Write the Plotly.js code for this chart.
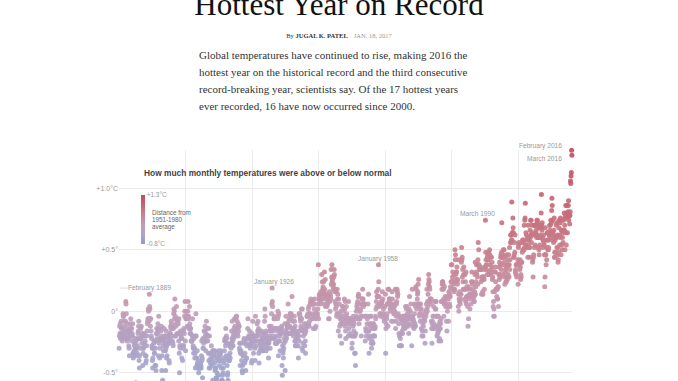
<!DOCTYPE html>
<html>
<head>
<meta charset="utf-8">
<script src="https://cdn.plot.ly/plotly-3.0.1.min.js"></script>
<style>
html,body{margin:0;padding:0;width:678px;height:381px;overflow:hidden;background:#fff;}
#chart{position:absolute;left:0;top:0;width:678px;height:500px;z-index:1;}
.hed{position:absolute;left:0;width:678px;top:-11px;text-align:center;font-family:'Liberation Serif',serif;font-size:31px;line-height:31px;color:#111;z-index:2;white-space:nowrap;}
.byline{position:absolute;left:0;width:678px;top:32px;text-align:center;font-family:'Liberation Serif',serif;font-size:6.5px;line-height:8px;color:#333;z-index:2;white-space:nowrap;}
.byline b{font-weight:bold;color:#333;}
.byline .date{color:#999;margin-left:6px;}
.summary{position:absolute;left:199px;top:47.4px;font-family:'Liberation Serif',serif;font-size:11px;line-height:16.8px;color:#333;white-space:nowrap;z-index:2;}
</style>
</head>
<body>
<div class="hed">Hottest Year on Record</div>
<div class="byline">By <b>JUGAL K. PATEL</b><span class="date">JAN. 18, 2017</span></div>
<div class="summary">Global temperatures have continued to rise, making 2016 the<br>hottest year on the historical record and the third consecutive<br>record-breaking year, scientists say. Of the 17 hottest years<br>ever recorded, 16 have now occurred since 2000.</div>
<div id="chart"></div>
<script>
// ---- data ----
const startYear = 1880;
const monthNames = ["January","February","March","April","May","June","July","August","September","October","November","December"];
// monthly anomaly vs 1951-1980 average, in hundredths of a degree C; one row per year, Jan..Dec
const anomalyHundredths = [
[-30,-20,-12,-18,-10,-22,-18,-8,-14,-22,-20,-24],
[-18,-14,-2,-4,-4,-20,-8,-12,-16,-22,-20,-8],
[8,6,-2,-18,-16,-24,-22,-10,-14,-22,-16,-28],
[-30,-36,-16,-20,-18,-10,-6,-14,-20,-14,-24,-18],
[-20,-10,-34,-38,-34,-36,-32,-28,-26,-22,-32,-30],
[-58,-30,-24,-36,-30,-34,-28,-22,-18,-16,-12,-8],
[-40,-46,-36,-22,-22,-30,-14,-22,-12,-20,-26,-18],
[-62,-44,-30,-34,-30,-20,-18,-26,-20,-28,-24,-36],
[-42,-36,-40,-28,-20,-16,-10,-8,-6,2,0,-6],
[-8,14,4,2,-6,-12,-6,-16,-20,-22,-28,-30],
[-40,-46,-38,-30,-30,-26,-24,-34,-34,-24,-44,-30],
[-44,-48,-18,-24,-14,-22,-18,-14,-10,-16,-36,-4],
[-26,-14,-38,-30,-22,-24,-22,-16,-20,-12,-48,-36],
[-76,-56,-22,-28,-32,-24,-14,-22,-26,-20,-20,-32],
[-48,-30,-16,-38,-28,-36,-22,-20,-26,-20,-26,-26],
[-40,-42,-24,-18,-22,-18,-12,-14,-8,-10,-14,-20],
[-24,-12,-26,-28,-14,-2,2,0,-6,10,-20,-4],
[-20,-12,-10,4,-6,-18,-8,-10,-8,-10,-18,-24],
[-6,-34,-50,-28,-30,-16,-18,-20,-22,-28,-38,-22],
[-16,-40,-28,-30,-16,-28,-14,-18,-4,0,8,-24],
[-32,-6,0,-4,-6,-4,-12,-4,0,8,-6,-4],
[-14,-12,4,-10,-18,-14,-14,-18,-24,-24,-24,-24],
[-20,-6,-20,-28,-30,-34,-22,-30,-30,-38,-34,-46],
[-20,-2,-20,-38,-38,-44,-32,-42,-44,-46,-40,-50],
[-60,-46,-46,-46,-46,-44,-42,-44,-46,-36,-24,-40],
[-38,-54,-22,-30,-30,-26,-24,-16,-16,-24,-12,-20],
[-24,-32,-18,-8,-24,-20,-20,-14,-24,-20,-34,-14],
[-40,-46,-20,-34,-46,-42,-40,-38,-34,-28,-44,-42],
[-42,-32,-56,-40,-36,-36,-32,-36,-32,-42,-48,-46],
[-66,-46,-54,-56,-54,-50,-38,-34,-38,-40,-32,-52],
[-38,-40,-44,-34,-36,-40,-34,-32,-40,-46,-56,-62],
[-56,-52,-60,-50,-46,-42,-40,-38,-32,-24,-22,-24],
[-28,-14,-36,-20,-22,-26,-44,-52,-50,-56,-40,-38],
[-36,-40,-40,-28,-34,-38,-28,-26,-30,-26,-16,-22],
[-8,-28,-24,-28,-20,-22,-18,-14,-16,-6,-12,-6],
[-20,-6,-16,-4,-4,-14,-8,-18,-14,-20,-10,-16],
[-12,-12,-30,-26,-32,-44,-34,-26,-32,-34,-40,-64],
[-48,-50,-44,-36,-42,-36,-24,-22,-26,-42,-34,-66],
[-40,-48,-26,-38,-38,-28,-22,-22,-14,-6,-22,-22],
[-20,-22,-20,-16,-28,-30,-26,-26,-20,-22,-42,-40],
[-18,-22,-8,-24,-24,-34,-28,-24,-20,-24,-30,-40],
[-4,-20,-20,-28,-24,-20,-10,-20,-16,-8,-18,-14],
[-34,-42,-16,-24,-32,-26,-24,-28,-30,-24,-16,-20],
[-24,-32,-22,-32,-30,-18,-22,-26,-26,-8,2,-4],
[-18,-28,-16,-32,-20,-22,-22,-30,-26,-26,-22,-38],
[-26,-24,-12,-16,-20,-30,-22,-14,-16,-12,-2,6],
[19,8,4,-16,-20,-22,-14,-6,-4,-6,-6,-22],
[-26,-14,-26,-26,-20,-26,-14,-16,-6,0,-4,-36],
[-2,-14,-24,-24,-20,-32,-18,-16,-18,-16,-12,-14],
[-44,-52,-28,-34,-32,-38,-30,-26,-22,-18,-10,-48],
[-24,-16,-4,-20,-22,-18,-14,-10,-12,-12,6,-12],
[-8,-18,-6,-18,-12,-2,-2,-6,-4,-2,-14,-4],
[12,-18,-16,-8,-14,-20,-16,-14,-4,-8,-24,-12],
[-28,-24,-28,-16,-22,-28,-18,-18,-22,-20,-28,-38],
[-20,-2,-24,-16,-2,-4,-6,-8,-12,-14,2,-6],
[-30,2,-16,-32,-26,-20,-14,-16,-16,-10,-28,-18],
[-24,-34,-16,-14,-10,-12,-4,-4,-4,-2,-4,2],
[-10,4,-12,-8,-2,-2,6,8,10,6,8,-6],
[8,6,6,6,-6,-14,-4,-2,2,10,6,-14],
[-4,-2,-12,-6,-2,-2,-4,-4,-2,2,6,38],
[-6,10,12,14,10,8,14,6,16,10,14,30],
[10,24,10,18,20,14,24,16,6,32,18,14],
[26,4,12,14,12,10,4,6,6,8,10,12],
[-6,10,-6,16,8,0,14,12,10,34,22,28],
[38,24,26,22,20,18,22,28,34,30,16,8],
[18,2,6,16,4,-4,-2,18,10,14,-2,-16],
[10,-2,-4,6,-12,-20,-6,-10,0,-4,-6,-26],
[-10,-8,4,4,-4,0,-8,-6,-10,10,2,-12],
[8,-16,-22,-4,4,-2,-10,-6,-6,-8,-6,-20],
[8,-14,-6,-8,-8,-18,-10,-6,-10,-6,-8,-20],
[-30,-26,-6,-20,-12,-4,-8,-16,-10,-20,-34,-20],
[-34,-44,-18,-6,0,-4,4,6,2,8,-6,12],
[14,12,-10,0,-6,-6,0,2,6,-4,-20,-4],
[6,10,10,18,10,6,4,6,6,6,-4,6],
[-24,-4,-14,-16,-20,-16,-16,-10,-6,-4,6,-16],
[14,-16,-34,-22,-20,-10,-12,-4,-10,-4,-26,-30],
[-14,-24,-20,-26,-26,-10,-10,-20,-14,-20,-20,-14],
[-12,-4,-6,2,8,16,4,12,12,4,12,18],
[38,24,12,4,6,-2,6,-4,-2,6,8,-4],
[6,8,16,10,-2,4,2,-2,-6,-8,-4,4],
[-4,14,-34,-14,-10,-4,-6,-2,6,6,-12,18],
[6,18,8,10,10,10,2,2,6,0,4,-8],
[6,16,10,4,-8,4,2,-2,4,4,6,0],
[-2,18,-14,-8,-4,6,8,18,16,12,14,-2],
[-4,-10,-18,-28,-20,-4,-6,-22,-28,-28,-18,-28],
[-6,-16,-8,-18,-10,-4,-14,-4,-12,-4,-4,-8],
[-14,-4,4,-12,-8,2,4,-6,-2,-10,-4,-12],
[-6,-18,2,0,12,-10,-4,0,-6,6,-4,-4],
[-28,-6,18,-4,-12,-6,-8,-8,-14,6,-2,-12],
[-10,-12,4,20,18,6,2,4,10,14,16,22],
[6,26,4,6,-4,-2,-2,-8,6,2,2,-14],
[-2,-20,-16,-8,-10,-20,-12,-4,-4,-6,-6,-8],
[-26,-16,0,-4,-2,6,2,18,0,8,4,14],
[22,30,26,24,20,18,10,8,6,10,10,-8],
[-14,-26,-10,-8,-14,-4,-4,4,-10,-12,-12,-14],
[8,2,8,2,8,-4,-4,-20,-4,-12,-18,-16],
[-4,-16,-24,-10,-22,-14,-8,-14,-10,-24,-6,8],
[8,18,22,24,24,22,18,10,-4,6,20,6],
[8,12,10,4,6,-8,4,-16,4,0,12,4],
[10,-8,16,4,6,14,4,12,20,18,24,38],
[24,38,24,28,32,24,24,22,18,16,30,18],
[50,42,46,30,26,32,32,36,24,22,26,42],
[4,14,0,10,16,8,8,6,14,10,14,40],
[52,42,44,28,34,24,18,30,36,18,30,18],
[30,10,24,8,32,6,12,20,18,12,4,-12],
[20,-6,12,10,14,12,2,18,12,14,6,14],
[24,32,24,22,18,12,10,14,8,12,8,16],
[30,40,14,20,24,32,38,30,38,28,22,42],
[56,38,50,38,36,36,34,34,36,34,24,34],
[14,28,26,28,16,14,26,28,28,26,18,34],
[36,36,74,48,42,38,34,38,30,44,46,42],
[42,48,30,46,32,50,46,38,44,30,32,34],
[44,36,40,26,28,16,4,8,-4,2,-4,16],
[32,36,32,24,18,18,18,12,10,18,10,20],
[20,4,30,36,26,40,30,28,38,44,46,34],
[48,72,44,44,30,44,46,50,38,50,40,28],
[22,44,32,34,24,24,36,46,28,26,42,38],
[30,38,46,28,38,52,34,42,56,62,62,56],
[58,89,58,64,64,76,68,64,44,44,46,56],
[48,62,32,34,30,38,38,28,38,38,38,42],
[22,52,54,56,40,38,34,42,36,26,30,28],
[40,40,56,48,58,50,56,58,50,50,70,52],
[74,76,88,54,64,54,62,52,58,52,60,44],
[70,54,58,52,58,44,52,66,60,74,62,74],
[56,70,62,64,40,42,28,44,46,62,70,52],
[70,54,70,70,64,66,62,60,74,74,72,60],
[52,68,60,50,46,60,54,70,62,68,68,80],
[95,70,66,72,60,52,58,58,62,56,54,46],
[20,28,68,46,46,38,52,42,58,64,64,50],
[58,50,52,58,62,62,70,66,70,64,74,60],
[72,82,92,86,74,64,58,62,56,66,76,44],
[48,44,58,60,48,60,70,72,52,62,46,52],
[40,42,48,68,74,62,54,60,72,76,74,46],
[66,54,66,50,60,64,56,66,74,66,80,66],
[70,50,76,78,86,64,54,80,86,78,64,76],
[81,86,90,74,78,78,71,78,81,106,104,110],
[113,131,127,107,93,79,84,98,87,89,91,81]
];
// labelled months: [year, month index], label text
const labelYears  = [2016, 2016, 1990, 1958, 1926, 1889];
const labelMonths = [1, 2, 2, 0, 0, 1];
const yTickVals = [-0.5, 0, 0.5, 1.0];
const yTickText = ["-0.5°", "0°", "+0.5°", "+1.0°C"];
const gridYears = ["1900", "1920", "1940", "1960", "1980", "2000"];
const colorMin = -0.8, colorMax = 1.3;
const colorTickText = ["-0.8°C", "+1.3°C"];
const legendLines = ["Distance from", "1951-1980", "average"];

// ---- build the trace ----
const xs = [], ys = [], hover = [];
anomalyHundredths.forEach((row, i) => {
  const yr = startYear + i;
  row.forEach((v, m) => {
    xs.push(yr + "-" + String(m + 1).padStart(2, "0") + "-15");
    ys.push(v / 100);
    hover.push(monthNames[m] + " " + yr);
  });
});
function pt(year, month) {
  return { x: year + "-" + String(month + 1).padStart(2, "0") + "-15", y: anomalyHundredths[year - startYear][month] / 100 };
}

const labelFont = { family: "Liberation Sans, Arial, sans-serif", size: 6.6, color: "#999" };
const shifts = [[-8, 4, "right"], [-8, -3, "right"], [-8, 7, "center"], [0, 6, "center"], [2, 6, "center"], [0, 6, "center"]];
const annotations = labelYears.map((yr, k) => {
  const p = pt(yr, labelMonths[k]);
  return { x: p.x, y: p.y, xref: "x", yref: "y", text: monthNames[labelMonths[k]] + " " + yr, showarrow: false,
    xanchor: shifts[k][2], yanchor: "middle", xshift: shifts[k][0], yshift: shifts[k][1], font: labelFont };
});
annotations.push({ xref: "paper", yref: "paper", x: 0.0508, y: 0.919, xanchor: "left", yanchor: "middle", showarrow: false,
  text: "<b>How much monthly temperatures were above or below normal</b>",
  font: { family: "Liberation Sans, Arial, sans-serif", size: 8.4, color: "#444" } });
legendLines.forEach((t, k) => annotations.push({ xref: "paper", yref: "paper", x: 0.0684, y: 0.780 - k * 0.0254,
  xanchor: "left", yanchor: "middle", showarrow: false, text: t,
  font: { family: "Liberation Sans, Arial, sans-serif", size: 6.3, color: "#666" } }));

const colorscale = [[0, "#8e9cc8"], [0.19, "#a8a6cc"], [0.38, "#c29cb6"], [0.62, "#c8808c"], [1, "#c04a5a"]];

const trace = {
  type: "scatter", mode: "markers", x: xs, y: ys, text: hover, hoverinfo: "text+y",
  cliponaxis: false,
  marker: { size: 5, color: ys, cmin: colorMin, cmax: colorMax, colorscale: colorscale, opacity: 0.9, line: { width: 0 },
    showscale: true,
    colorbar: { x: 0.0494, xanchor: "left", xpad: 0, ypad: 0, y: 0.755, yanchor: "middle", len: 49, lenmode: "pixels",
      thickness: 3.5, thicknessmode: "pixels", outlinewidth: 0, ticks: "", tickvals: [colorMin, colorMax], ticktext: colorTickText,
      tickfont: { family: "Liberation Sans, Arial, sans-serif", size: 6.4, color: "#999" } } }
};

const layout = {
  width: 678, height: 500,
  margin: { l: 119, r: 106, t: 150, b: 66, pad: 0 },
  paper_bgcolor: "rgba(0,0,0,0)", plot_bgcolor: "rgba(0,0,0,0)",
  showlegend: false,
  xaxis: { type: "date", range: ["1880-01-01", "2016-03-28"], tickvals: gridYears.map(y => y + "-01-01"),
    showticklabels: false, showgrid: true, gridcolor: "#ebebeb", gridwidth: 1, zeroline: false, showline: false, ticks: "" },
  yaxis: { range: [-0.997, 1.312], tickvals: yTickVals, ticktext: yTickText, showgrid: true, gridcolor: "#ebebeb",
    zeroline: false, showline: false, ticks: "",
    tickfont: { family: "Liberation Sans, Arial, sans-serif", size: 7, color: "#999" } },
  annotations: annotations,
  shapes: [{ type: "line", xref: "paper", yref: "paper", x0: 0.002, x1: 0.02, y0: 0.514, y1: 0.514, line: { color: "#ddd", width: 1 } }]
};

Plotly.newPlot("chart", [trace], layout, { displayModeBar: false, staticPlot: true });
</script>
</body>
</html>
